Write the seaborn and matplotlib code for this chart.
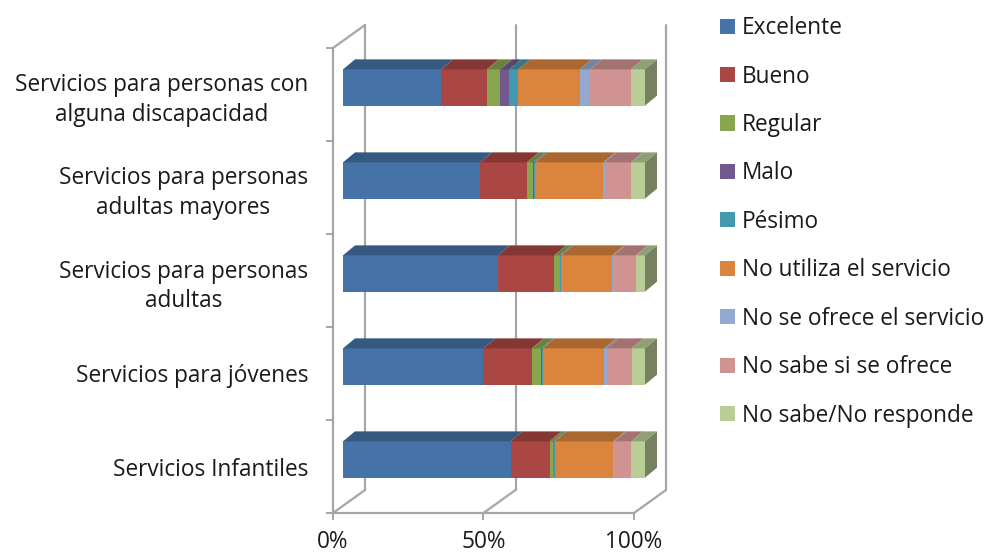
import matplotlib
matplotlib.use("Agg")
import matplotlib.pyplot as plt
import seaborn as sns
import pandas as pd
from matplotlib.patches import Patch, Polygon
from matplotlib.colors import to_rgb

# ---- data (percent of respondents) ----
categories = [
    "Servicios para personas con\nalguna discapacidad",
    "Servicios para personas\nadultas mayores",
    "Servicios para personas\nadultas",
    "Servicios para jóvenes",
    "Servicios Infantiles",
]
series = ["Excelente", "Bueno", "Regular", "Malo", "Pésimo",
          "No utiliza el servicio", "No se ofrece el servicio",
          "No sabe si se ofrece", "No sabe/No responde"]

excelente = [32.5, 45.4, 51.3, 46.5, 55.5]
bueno = [15.1, 15.5, 18.7, 16.1, 12.9]
regular = [4.5, 2.1, 1.7, 2.9, 1.1]
malo = [3.0, 0.3, 0.3, 0.3, 0.2]
pesimo = [3.0, 0.4, 0.3, 0.3, 0.4]
no_utiliza = [20.3, 22.5, 16.9, 20.4, 19.4]
no_se_ofrece = [3.4, 0.4, 0.3, 0.8, 0.4]
no_sabe_si = [13.5, 8.7, 7.5, 8.3, 5.6]
ns_nr = [4.7, 4.7, 3.0, 4.4, 4.5]

x_ticks = [0, 50, 100]
x_tick_labels = ["0%", "50%", "100%"]

colors = ["#4572A7", "#AA4643", "#89A54E", "#71588F", "#4198AF",
          "#DB843D", "#93A9CF", "#D19392", "#B9CD96"]

df = pd.DataFrame({"Servicio": categories})
for name, vals in zip(series, [excelente, bueno, regular, malo, pesimo,
                               no_utiliza, no_se_ofrece, no_sabe_si, ns_nr]):
    df[name] = vals
cum = df[series].cumsum(axis=1)

sns.set_theme(style="white")
plt.rcParams["font.family"] = ["Open Sans", "DejaVu Sans"]
TXT = "#1a1a1a"
GRID = "#a6a6a6"
FS = 16.3

W, H = 993, 558
fig = plt.figure(figsize=(W / 100, H / 100), dpi=100)


def px_box(left, top, right, bottom):
    return [left / W, 1 - bottom / H, (right - left) / W, (bottom - top) / H]


# frame axes (walls, floor, tick labels)
ax_f = fig.add_axes(px_box(333, 48, 634, 513))
# bar axes, sitting a little deeper inside the box
ax_b = fig.add_axes(px_box(343, 41, 645, 506))

ax_f.set_xlim(0, 100)
ax_f.set_ylim(len(categories) - 0.5, -0.5)
ax_f.set_facecolor("none")
for s in ["top", "right"]:
    ax_f.spines[s].set_visible(False)
for s in ["left", "bottom"]:
    ax_f.spines[s].set_color(GRID)
    ax_f.spines[s].set_linewidth(1.6)
ax_f.set_xticks(x_ticks)
ax_f.set_xticklabels(x_tick_labels)
ax_f.set_yticks(range(len(categories)))
ax_f.set_yticklabels(categories)
ax_f.set_yticks([i - 0.5 for i in range(len(categories) + 1)], minor=True)
ax_f.tick_params(axis="y", which="major", length=0, pad=18, labelsize=FS, colors=TXT)
ax_f.tick_params(axis="y", which="minor", left=True, length=5, width=1.4, color=GRID)
ax_f.tick_params(axis="x", which="major", bottom=True, length=5, width=1.4,
                 color=GRID, pad=7, labelsize=FS, labelcolor=TXT)
for lab in ax_f.get_yticklabels():
    lab.set_multialignment("center")
    lab.set_linespacing(1.3)

# depth of the box in frame data units
fpx_x = 301 / 100.0
fpx_y = 465 / len(categories)
dx = 32 / fpx_x
dy = 23 / fpx_y
ybot, ytop = len(categories) - 0.5, -0.5
for x0 in x_ticks:
    ax_f.plot([x0, x0 + dx], [ybot, ybot - dy], color=GRID, lw=1.6, clip_on=False)
    ax_f.plot([x0 + dx, x0 + dx], [ybot - dy, ytop - dy], color=GRID, lw=1.6, clip_on=False)
ax_f.plot([0, dx], [ytop, ytop - dy], color=GRID, lw=1.6, clip_on=False)

# stacked bars: draw cumulative totals from the longest down
for name, color in reversed(list(zip(series, colors))):
    sns.barplot(x=cum[name], y=df["Servicio"], color=color, orient="h",
                width=0.39, saturation=1, errorbar=None, linewidth=0, ax=ax_b)

ax_b.set_xlim(0, 100)
ax_b.set_ylim(len(categories) - 0.5, -0.5)
ax_b.set_facecolor("none")
ax_b.axis("off")

# 3-D top and end faces of each bar
bpx_x = 302 / 100.0
bpx_y = 465 / len(categories)
ox = 12 / bpx_x
oy = 10 / bpx_y
rects = ax_b.patches[:len(categories)]


def shade(c, f):
    r, g, b = to_rgb(c)
    return (r * f, g * f, b * f)


for i, rect in enumerate(rects):
    top = rect.get_y()
    bot = rect.get_y() + rect.get_height()
    left = 0.0
    for name, color in zip(series, colors):
        right = cum.loc[i, name]
        ax_b.add_patch(Polygon([(left, top), (right, top), (right + ox, top - oy),
                                (left + ox, top - oy)], closed=True,
                               facecolor=shade(color, 0.78), edgecolor="none",
                               clip_on=False))
        left = right
    end_color = colors[-1]
    ax_b.add_patch(Polygon([(left, top), (left + ox, top - oy), (left + ox, bot - oy),
                            (left, bot)], closed=True,
                           facecolor=shade(end_color, 0.63), edgecolor="none",
                           clip_on=False))

handles = [Patch(facecolor=c, edgecolor="none") for c in colors]
fig.legend(handles, series, loc="upper left", bbox_to_anchor=(711 / W, 1 - 7 / H),
           frameon=False, fontsize=FS, handlelength=0.65, handleheight=0.65,
           handletextpad=0.3, labelspacing=1.08, labelcolor=TXT, borderaxespad=0)

fig.savefig("out.png", dpi=100)
